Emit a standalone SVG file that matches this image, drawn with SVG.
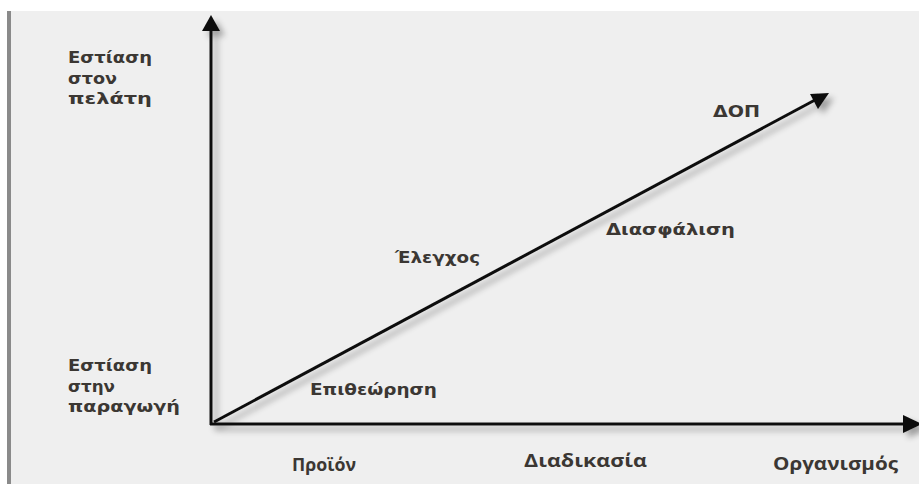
<svg xmlns="http://www.w3.org/2000/svg" width="919" height="484" viewBox="0 0 919 484">
<style>
.lbl{font-family:"DejaVu Sans",Verdana,sans-serif;font-weight:bold;font-size:15px;fill:#3b3733}
.ax{font-family:"Open Sans","Liberation Sans",sans-serif;font-weight:bold;font-size:17px;fill:#3b3733}
.line{stroke:#111;stroke-width:3;fill:none}
</style>
<defs>
<filter id="sh" x="-20%" y="-20%" width="140%" height="140%">
<feGaussianBlur in="SourceAlpha" stdDeviation="3"/>
<feOffset dx="5" dy="5" result="b"/>
<feComponentTransfer><feFuncA type="linear" slope="0.35"/></feComponentTransfer>
<feMerge><feMergeNode/><feMergeNode in="SourceGraphic"/></feMerge>
</filter>
</defs>
<rect width="919" height="484" fill="#ffffff"/>
<rect x="7" y="11" width="912" height="473" fill="#efefef"/>
<rect x="7" y="11" width="4" height="473" fill="#8a8a8a"/>
<g id="connectors" filter="url(#sh)">
<line class="line" x1="211" y1="425" x2="211" y2="28"/>
<path d="M211,15 L220,31 L202,31 Z" fill="#111"/>
<line class="line" x1="210" y1="424" x2="905" y2="424"/>
<path d="M922,424 L903,415 L903,433 Z" fill="#111"/>
<line class="line" x1="214" y1="422" x2="815" y2="100"/>
<path d="M829,93 L810,94 L818,109 Z" fill="#111"/>
</g>
<g id="y-top"><text class="lbl" x="68" y="63" textLength="84" lengthAdjust="spacingAndGlyphs">Εστίαση</text><text class="lbl" x="68" y="84" textLength="49" lengthAdjust="spacingAndGlyphs">στον</text><text class="lbl" x="68" y="104" textLength="84" lengthAdjust="spacingAndGlyphs">πελάτη</text></g>
<g id="y-bottom"><text class="lbl" x="68" y="371" textLength="84" lengthAdjust="spacingAndGlyphs">Εστίαση</text><text class="lbl" x="68" y="392" textLength="47" lengthAdjust="spacingAndGlyphs">στην</text><text class="lbl" x="68" y="412" textLength="112" lengthAdjust="spacingAndGlyphs">παραγωγή</text></g>
<g id="epitheorisi"><text class="lbl" x="310" y="395" textLength="127" lengthAdjust="spacingAndGlyphs">Επιθεώρηση</text></g>
<g id="elegxos"><text class="lbl" x="395" y="263" textLength="85" lengthAdjust="spacingAndGlyphs">Έλεγχος</text></g>
<g id="diasfalisi"><text class="lbl" x="606" y="235" textLength="129" lengthAdjust="spacingAndGlyphs">Διασφάλιση</text></g>
<g id="dop"><text class="lbl" x="713" y="117" textLength="47" lengthAdjust="spacingAndGlyphs">ΔΟΠ</text></g>
<g id="x-proion"><text class="ax" x="292" y="471" textLength="64" lengthAdjust="spacingAndGlyphs">Προϊόν</text></g>
<g id="x-diadikasia"><text class="ax" x="524" y="467" textLength="123" lengthAdjust="spacingAndGlyphs">Διαδικασία</text></g>
<g id="x-organismos"><text class="ax" x="773" y="470" textLength="125" lengthAdjust="spacingAndGlyphs">Οργανισμός</text></g>
</svg>
